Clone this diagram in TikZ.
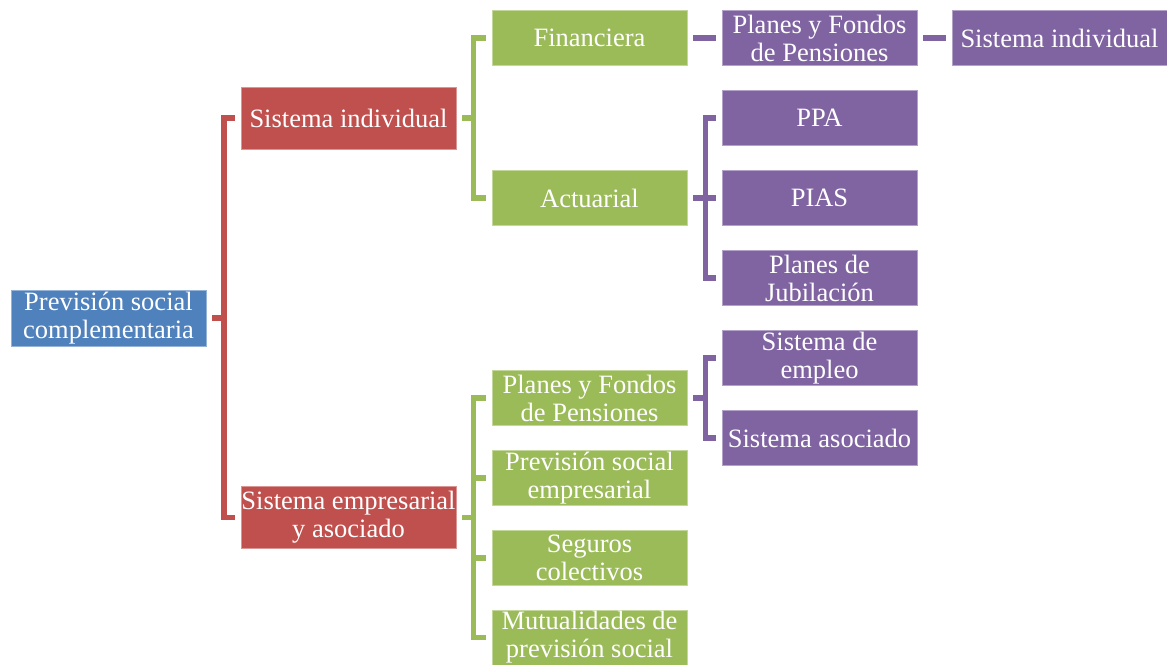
\documentclass[tikz,border=0pt]{standalone}
\usepackage{fontspec}
\setmainfont{Liberation Serif}
\newfontfamily\tnr{Liberation Serif}
\definecolor{cblue}{HTML}{4F81BD}
\definecolor{cred}{HTML}{C0504D}
\definecolor{cgreen}{HTML}{9BBB59}
\definecolor{cpurple}{HTML}{8064A2}
\tikzset{
  box/.style={rectangle, inner sep=0pt, minimum width=195pt, minimum height=55pt,
    text=white, align=center, line width=0.8pt,
    font=\tnr\fontsize{26.5pt}{28pt}\selectfont},
  rootbox/.style={box, fill=cblue, draw=cblue!60!white, minimum height=56pt},
  redbox/.style={box, fill=cred, draw=cred!60!white, minimum width=215pt, minimum height=62pt},
  greenbox/.style={box, fill=cgreen, draw=cgreen!60!white},
  purplebox/.style={box, fill=cpurple, draw=cpurple!60!white},
  link/.style={line width=5.7pt, line join=miter, line cap=butt},
  redlink/.style={link, draw=cred},
  greenlink/.style={link, draw=cgreen},
  purplelink/.style={link, draw=cpurple}
}
\begin{document}
\begin{tikzpicture}[x=1pt,y=-1pt]
\useasboundingbox (0,0) rectangle (1167,664);
\begin{scope}
\clip (0,0) rectangle (1167,664);
% nodes
\node[rootbox] (root) at (108.5,318) {Previsión social\\complementaria};
\node[redbox] (si) at (348.5,118) {Sistema individual};
\node[redbox] (se) at (348.5,517.5) {Sistema empresarial\\y asociado};
\node[greenbox] (fin) at (589.5,38.2) {Financiera};
\node[greenbox] (act) at (589.5,198.2) {Actuarial};
\node[greenbox] (pfp) at (589.5,398.2) {Planes y Fondos\\de Pensiones};
\node[greenbox] (pse) at (589.5,478) {Previsión social\\empresarial};
\node[greenbox] (sc) at (589.5,558) {Seguros\\colectivos};
\node[greenbox] (mp) at (589.5,637.5) {Mutualidades de\\previsión social};
\node[purplebox] (pfpa) at (819.5,38.2) {Planes y Fondos\\de Pensiones};
\node[purplebox] (ppa) at (819.5,118.2) {PPA};
\node[purplebox] (pias) at (819.5,198.2) {PIAS};
\node[purplebox] (pj) at (819.5,278) {Planes de\\Jubilación};
\node[purplebox] (sem) at (819.5,358) {Sistema de\\empleo};
\node[purplebox] (sa) at (819.5,438) {Sistema asociado};
\node[purplebox, minimum width=215pt] (sir) at (1059.5,38.2) {Sistema individual};
% red bracket
\draw[redlink] ([xshift=6pt]root.east) -- ++(11.5pt,0) coordinate (rj);
\draw[redlink] ([xshift=-6pt]si.west) -| (rj) |- ([xshift=-6pt]se.west);
% green brackets
\draw[greenlink] ([xshift=6pt]si.east) -- ++(11pt,0) coordinate (gj1);
\draw[greenlink] ([xshift=-6pt]fin.west) -| (gj1) |- ([xshift=-6pt]act.west);
\draw[greenlink] ([xshift=6pt]se.east) -- ++(11pt,0) coordinate (gj2);
\draw[greenlink] ([xshift=-6pt]pfp.west) -| (gj2) |- ([xshift=-6pt]mp.west);
\draw[greenlink] (gj2 |- pse) -- ([xshift=-6pt]pse.west);
\draw[greenlink] (gj2 |- sc) -- ([xshift=-6pt]sc.west);
% purple links
\draw[purplelink] ([xshift=6pt]fin.east) -- ([xshift=-6pt]pfpa.west);
\draw[purplelink] ([xshift=6pt]pfpa.east) -- ([xshift=-6pt]sir.west);
\draw[purplelink] ([xshift=6pt]act.east) -- ++(12pt,0) coordinate (pj1);
\draw[purplelink] ([xshift=-6pt]ppa.west) -| (pj1) |- ([xshift=-6pt]pj.west);
\draw[purplelink] (pj1) -- ([xshift=-6pt]pias.west);
\draw[purplelink] ([xshift=6pt]pfp.east) -- ++(12pt,0) coordinate (pj2);
\draw[purplelink] ([xshift=-6pt]sem.west) -| (pj2) |- ([xshift=-6pt]sa.west);
\end{scope}
\end{tikzpicture}
\end{document}
